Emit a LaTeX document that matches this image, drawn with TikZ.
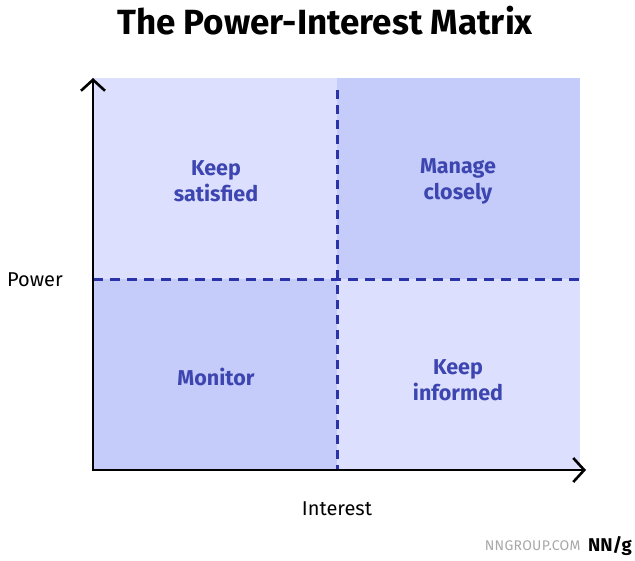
\documentclass[tikz,border=0pt]{standalone}
\usepackage{fontspec}
\setmainfont{Fira Sans}
\usetikzlibrary{arrows.meta}
\definecolor{quadlight}{HTML}{DCDFFD}
\definecolor{quaddark}{HTML}{C6CCFA}
\definecolor{divider}{HTML}{2A33A8}
\definecolor{labelblue}{HTML}{3D46B0}
\definecolor{markgray}{HTML}{A8A8A8}
\tikzset{
  quad/.style={minimum width=244pt, minimum height=201pt, inner sep=0pt, outer sep=0pt},
  quadlabel/.style={text=labelblue, font=\fontsize{21.5}{26}\selectfont\bfseries, align=center},
  axis/.style={line width=2.6pt, -{Straight Barb[length=11pt, width=24pt, line width=2.6pt]}},
  vdiv/.style={divider, line width=3pt, dash pattern=on 9pt off 6pt},
  hdiv/.style={divider, line width=3pt, dash pattern=on 10pt off 7pt},
  axislabel/.style={font=\fontsize{20}{24}\selectfont}
}
\begin{document}
\begin{tikzpicture}[x=1pt, y=-1pt]
\useasboundingbox (0,0) rectangle (635,560);
\fill[white] (0,0) rectangle (635,560);

% title
\node (title) at (325,21) {\fontsize{35}{40}\selectfont\bfseries The Power-Interest Matrix};

% quadrants
\node[quad, fill=quadlight, anchor=north west] (tl) at (93,78) {};
\node[quad, fill=quaddark, anchor=north west, minimum width=243pt] (tr) at (337,78) {};
\node[quad, fill=quaddark, anchor=north west, minimum height=191pt] (bl) at (93,279) {};
\node[quad, fill=quadlight, anchor=north west, minimum width=243pt, minimum height=191pt] (br) at (337,279) {};

\node[quadlabel] (ks) at (216,181) {Keep\\satisfied};
\node[quadlabel] (mc) at (458,181) {Manage\\closely};
\node[quadlabel] (mo) at (216,377) {Monitor};
\node[quadlabel] (ki) at (458,380) {Keep\\informed};

% dashed dividers
\draw[vdiv] (tl.north east) ++(0,12) -- (bl.south east);
\draw[hdiv] (tl.south west) -- (br.north east);

% axes
\coordinate (origin) at (93,470);
\coordinate (ytip) at (93,78);
\coordinate (xtip) at (586,470);
\draw[axis] (origin) ++(0,1.3) -- (ytip);
\draw[axis] (origin) ++(-1.3,0) -- (xtip);

\node[axislabel] (power) at (35,280) {Power};
\node[axislabel] (interest) at (337,509) {Interest};

% footer mark
\node[anchor=east, text=markgray, font=\fontsize{14}{16}\selectfont\addfontfeatures{LetterSpace=2}] (site) at (584,546) {NNGROUP.COM};
\node[anchor=east, font=\fontsize{18.5}{22}\selectfont\bfseries, inner sep=0pt] (logo) at (632,546) {NN/g};
\end{tikzpicture}
\end{document}
